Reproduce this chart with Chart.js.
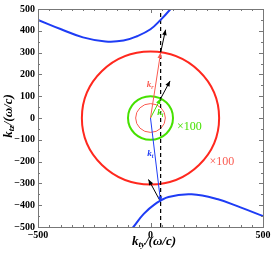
<!DOCTYPE html>
<html><head><meta charset="utf-8">
<script src="https://cdn.jsdelivr.net/npm/chart.js@4"></script>
<style>html,body{margin:0;padding:0;background:#fff}</style>
</head><body>
<canvas id="c" width="273" height="257" style="width:273px;height:257px;display:block"></canvas>
<script>
// ---- data ----
const upperBranchX = [-540, -500, -400, -300, -200, -120, -60, 0, 45, 89, 120];
const upperBranchY = [466, 450, 408, 370, 351, 355, 375, 407, 450, 500, 540];
const lowerBranchX = [-110, -76, -30, 20, 80, 183, 300, 400, 500, 540];
const lowerBranchY = [-540, -500, -440, -395, -362, -350, -373, -410, -450, -466];
const circleRadii = [305, 100, 66];          // big red (x100), green (x100), small red
const dashedX = [45, 45];
const dashedY = [-500, 500];
const waveFromX = [0, 0, 0];                 // k_r, k_i, k_t
const waveFromY = [0, 0, 0];
const waveToX = [45, 45, 45];
const waveToY = [300, 89, -385];
const normalToX = [67, 87, -9];              // black arrows from wave tips
const normalToY = [405, 170, -282];
const xTickLabels = [-500, 0, 500];
const yTickLabels = [-500, -400, -300, -200, -100, 0, 100, 200, 300, 400, 500];

const BLUE = 'rgb(30,60,245)', RED = 'rgb(255,40,30)', GREEN = 'rgb(70,225,0)', LRED = 'rgb(250,90,80)';
const pts = (xs, ys) => xs.map((x, i) => ({x, y: ys[i]}));

const datasets = [
  {data: pts(upperBranchX, upperBranchY), borderColor: BLUE, borderWidth: 2, tension: 0.4},
  {data: pts(lowerBranchX, lowerBranchY), borderColor: BLUE, borderWidth: 2, tension: 0.4},
  {data: pts(dashedX, dashedY), borderColor: '#000', borderWidth: 1.2, borderDash: [4, 3], arrow: false}
];
const waveColors = [LRED, GREEN, BLUE];
for (let i = 0; i < 3; i++) {
  datasets.push({data: [{x: waveFromX[i], y: waveFromY[i]}, {x: waveToX[i], y: waveToY[i]}],
    borderColor: waveColors[i], borderWidth: 1, arrow: true});
}
for (let i = 0; i < 3; i++) {
  datasets.push({data: [{x: waveToX[i], y: waveToY[i]}, {x: normalToX[i], y: normalToY[i]}],
    borderColor: '#000', borderWidth: 1, arrow: true});
}
datasets.forEach(d => { d.showLine = true; d.pointRadius = 0; d.fill = false; });

const decor = {
  id: 'decor',
  beforeDatasetsDraw(chart) {
    const {ctx, scales: {x, y}} = chart;
    const ca = chart.chartArea;
    ctx.save();
    ctx.beginPath(); ctx.rect(ca.left, ca.top, ca.right - ca.left, ca.bottom - ca.top); ctx.clip();
    const cols = [RED, GREEN, LRED], widths = [2, 2, 1];
    circleRadii.forEach((r, i) => {
      const cx = x.getPixelForValue(0), cy = y.getPixelForValue(0);
      const rx = Math.abs(x.getPixelForValue(r) - cx), ry = Math.abs(y.getPixelForValue(r) - cy);
      ctx.beginPath(); ctx.ellipse(cx, cy, rx, ry, 0, 0, Math.PI * 2);
      ctx.strokeStyle = cols[i]; ctx.lineWidth = widths[i]; ctx.stroke();
    });
    ctx.restore();
  },
  afterDatasetsDraw(chart) {
    const {ctx, scales: {x, y}} = chart;
    ctx.save();
    chart.data.datasets.forEach((d, i) => {
      if (!d.arrow) return;
      const a = d.data[0], b = d.data[1];
      const x1 = x.getPixelForValue(a.x), y1 = y.getPixelForValue(a.y);
      const x2 = x.getPixelForValue(b.x), y2 = y.getPixelForValue(b.y);
      const ang = Math.atan2(y2 - y1, x2 - x1), L = 5.5, W = 2.3;
      ctx.beginPath();
      ctx.moveTo(x2, y2);
      ctx.lineTo(x2 - L * Math.cos(ang) + W * Math.sin(ang), y2 - L * Math.sin(ang) - W * Math.cos(ang));
      ctx.lineTo(x2 - L * Math.cos(ang) - W * Math.sin(ang), y2 - L * Math.sin(ang) + W * Math.cos(ang));
      ctx.closePath(); ctx.fillStyle = d.borderColor; ctx.fill();
    });
    // labels
    const lab = (main, sub, px, py, col) => {
      ctx.fillStyle = col; ctx.textBaseline = 'alphabetic'; ctx.textAlign = 'left';
      ctx.font = 'italic bold 9px "Liberation Serif"';
      ctx.fillText(main, px, py);
      const w = ctx.measureText(main).width;
      ctx.font = 'italic bold 6px "Liberation Serif"';
      ctx.fillText(sub, px + w, py + 2);
    };
    lab('k', 'r', x.getPixelForValue(-17), y.getPixelForValue(140), LRED);
    lab('k', 'i', x.getPixelForValue(30), y.getPixelForValue(12), GREEN);
    lab('k', 't', x.getPixelForValue(-15), y.getPixelForValue(-175), BLUE);
    ctx.font = '12px "Liberation Serif"'; ctx.textBaseline = 'middle';
    ctx.fillStyle = GREEN; ctx.fillText('\u00d7100', x.getPixelForValue(118), y.getPixelForValue(-40));
    ctx.fillStyle = LRED; ctx.fillText('\u00d7100', x.getPixelForValue(262), y.getPixelForValue(-200));
    ctx.restore();
  },
  afterDraw(chart) {
    const {ctx, scales: {x, y}} = chart;
    const ca = chart.chartArea;
    ctx.save();
    ctx.strokeStyle = '#777'; ctx.lineWidth = 1;
    ctx.strokeRect(Math.round(ca.left) + 0.5, Math.round(ca.top) + 0.5, Math.round(ca.right - ca.left), Math.round(ca.bottom - ca.top));
    ctx.beginPath();
    x.ticks.forEach(t => {
      const p = Math.round(x.getPixelForValue(t.value)) + 0.5;
      const len = (t.value % 500 === 0) ? 4 : 2;
      ctx.moveTo(p, ca.bottom); ctx.lineTo(p, ca.bottom - len);
      ctx.moveTo(p, ca.top); ctx.lineTo(p, ca.top + len);
    });
    y.ticks.forEach(t => {
      const p = Math.round(y.getPixelForValue(t.value)) + 0.5;
      const len = (t.value % 100 === 0) ? 4 : 2;
      ctx.moveTo(ca.left, p); ctx.lineTo(ca.left + len, p);
      ctx.moveTo(ca.right, p); ctx.lineTo(ca.right - len, p);
    });
    ctx.stroke();
    // axis titles
    const title = (sub) => {
      const parts = [['k', 'italic bold 13px "Liberation Serif"', 0], [sub, 'italic bold 9px "Liberation Serif"', 3], ['/(\u03c9/c)', 'italic bold 13px "Liberation Serif"', 0]];
      let tw = 0; parts.forEach(p => { ctx.font = p[1]; tw += ctx.measureText(p[0]).width; });
      let cx = -tw / 2;
      parts.forEach(p => { ctx.font = p[1]; ctx.fillText(p[0], cx, p[2]); cx += ctx.measureText(p[0]).width; });
    };
    ctx.fillStyle = '#000'; ctx.textBaseline = 'middle'; ctx.textAlign = 'left';
    ctx.save(); ctx.translate(154, 242); title('ty'); ctx.restore();
    ctx.save(); ctx.translate(9, 116); ctx.rotate(-Math.PI / 2); title('tz'); ctx.restore();
    ctx.restore();
  }
};

const fmt = v => (v < 0 ? '\u2212' + Math.abs(v) : String(v));
new Chart(document.getElementById('c'), {
  type: 'scatter',
  data: {datasets},
  options: {
    responsive: false, animation: false, devicePixelRatio: 1,
    layout: {padding: {top: 6, right: 10, left: 0, bottom: 0}},
    plugins: {legend: {display: false}, tooltip: {enabled: false}},
    scales: {
      x: {type: 'linear', min: -500, max: 500,
        grid: {display: false, drawTicks: false}, border: {display: false},
        ticks: {stepSize: 50, autoSkip: false, maxRotation: 0, padding: 2, color: '#000',
          font: {family: '"Liberation Serif"', weight: 'bold', size: 10},
          callback: v => xTickLabels.includes(v) ? fmt(v) : ''},
        afterFit: s => { s.height = 30; }},
      y: {type: 'linear', min: -500, max: 500,
        grid: {display: false, drawTicks: false}, border: {display: false},
        ticks: {stepSize: 50, autoSkip: false, padding: 3, color: '#000',
          font: {family: '"Liberation Serif"', weight: 'bold', size: 10},
          callback: v => yTickLabels.includes(v) ? fmt(v) : ''},
        afterFit: s => { s.width = 38; }}
    }
  },
  plugins: [decor]
});
</script>
</body></html>
